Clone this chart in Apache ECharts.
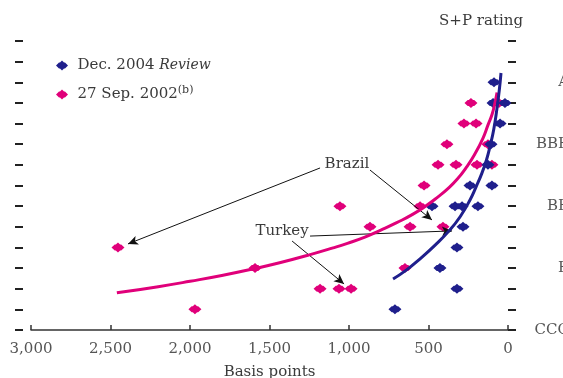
<!DOCTYPE html>
<html><head><meta charset="utf-8">
<script src="https://cdn.jsdelivr.net/npm/echarts@6/dist/echarts.min.js"></script>
<style>html,body{margin:0;padding:0;background:#fff}#c{width:563px;height:378px}</style>
</head><body><div id="c"></div>
<script>
// Rating scale (index 0 = CCC ... 14)
const ratingLabels = ['CCC','','','B','','','BB','','','BBB','','','A','',''];
const xTicks = [0, 500, 1000, 1500, 2000, 2500, 3000];

// Dec. 2004 Review points: spread (bp) and rating index
const dec2004Bp = [88, 94, 19, 50, 107, 126, 239, 101, 478, 333, 289, 189, 283, 321, 428, 321, 711];
const dec2004Rating = [12, 11, 11, 10, 9, 8, 7, 7, 6, 6, 6, 6, 5, 4, 3, 2, 1];

// 27 Sep. 2002 points
const sep2002Bp = [233, 57, 277, 201, 384, 126, 440, 327, 195, 101, 528, 553, 1057, 868, 616, 409, 2453, 1591, 648, 1182, 1063, 987, 1969];
const sep2002Rating = [11, 11, 10, 10, 9, 9, 8, 8, 8, 8, 7, 6, 6, 5, 5, 5, 4, 3, 3, 2, 2, 2, 1];

// Fitted curves
const dec2004FitBp = [723, 640, 553, 460, 365, 300, 239, 200, 164, 135, 113, 90, 69, 55, 44];
const dec2004FitRating = [2.47, 2.9, 3.45, 4.1, 4.85, 5.5, 6.3, 6.95, 7.6, 8.25, 8.9, 9.7, 10.75, 11.6, 12.45];
const sep2002FitBp = [2460, 2200, 2000, 1800, 1590, 1430, 1250, 1100, 1010, 900, 800, 700, 600, 500, 440, 385, 320, 260, 210, 157, 125, 100, 82, 69];
const sep2002FitRating = [1.8, 2.1, 2.36, 2.64, 2.98, 3.27, 3.64, 3.98, 4.2, 4.5, 4.84, 5.2, 5.6, 6.1, 6.45, 6.8, 7.3, 7.9, 8.5, 9.3, 9.95, 10.45, 11.0, 11.5];

const BLUE = '#1f1f8c';
const MAGENTA = '#e0007a';
const FONT = 'DejaVu Serif';
const marker = 'path://M6,0 L8,2 L9,2 L12,5 L9,8 L8,8 L6,10 L4,8 L3,8 L0,5 L3,2 L4,2 Z';

const zip = (a, b) => a.map((v, i) => [v, b[i]]);

const chart = echarts.init(document.getElementById('c'), null, {renderer: 'canvas'});
chart.setOption({
  animation: false,
  textStyle: {fontFamily: FONT},
  title: {text: 'S+P rating', right: 40, top: 14, padding: 0,
    textStyle: {fontFamily: FONT, fontSize: 15, fontWeight: 'normal', color: '#3a3a3a'}},
  legend: {
    orient: 'vertical', left: 51, top: 53, itemGap: 12, itemWidth: 13, itemHeight: 10,
    data: [{name: 'Dec. 2004', icon: marker}, {name: '27 Sep. 2002', icon: marker}],
    formatter: n => n === 'Dec. 2004' ? 'Dec. 2004 {i|Review}' : '27 Sep. 2002{s|(b)}',
    textStyle: {fontFamily: FONT, fontSize: 15, color: '#3a3a3a', padding: [0, 0, 0, 4],
      rich: {i: {fontFamily: FONT, fontStyle: 'italic', fontSize: 14, color: '#3a3a3a'},
             s: {fontFamily: FONT, fontSize: 11, color: '#3a3a3a', verticalAlign: 'top', padding: [0, 0, 8, 0]}}}
  },
  grid: {left: 31, right: 55, top: 41, bottom: 48, containLabel: false, outerBoundsMode: 'none'},
  xAxis: {
    type: 'value', inverse: true, min: 0, max: 3000, interval: 500,
    name: 'Basis points', nameLocation: 'middle', nameGap: 35,
    nameTextStyle: {fontFamily: FONT, fontSize: 15, color: '#3a3a3a'},
    axisLine: {show: true, lineStyle: {color: '#333', width: 1.5}},
    axisTick: {show: true, inside: true, length: 5, lineStyle: {color: '#333', width: 1.5}},
    axisLabel: {margin: 12, fontFamily: FONT, fontSize: 15, color: '#555',
      formatter: v => xTicks.includes(v) ? v.toLocaleString('en-US') : ''},
    splitLine: {show: false}
  },
  yAxis: [{
    type: 'value', position: 'right', offset: 7, min: 0, max: 14, interval: 1,
    axisLine: {show: false},
    axisTick: {show: true, length: 8, lineStyle: {color: '#222', width: 2}},
    axisLabel: {margin: 54, align: 'right', fontFamily: FONT, fontSize: 15, color: '#555',
      formatter: v => ratingLabels[v] || ''},
    splitLine: {show: false}
  }, {
    type: 'value', position: 'left', offset: 8, min: 0, max: 14, interval: 1,
    axisLine: {show: false},
    axisTick: {show: true, length: 8, lineStyle: {color: '#222', width: 2}},
    axisLabel: {show: false}, splitLine: {show: false}
  }],
  series: [
    {name: '27 Sep. 2002', type: 'scatter', symbol: marker, symbolSize: [13, 10],
      itemStyle: {color: MAGENTA, opacity: 1}, data: zip(sep2002Bp, sep2002Rating), z: 3},
    {name: 'Dec. 2004', type: 'scatter', symbol: marker, symbolSize: [13, 10],
      itemStyle: {color: BLUE, opacity: 1}, data: zip(dec2004Bp, dec2004Rating), z: 4},
    {name: 'fit2002', type: 'line', smooth: true, showSymbol: false, symbol: 'none',
      lineStyle: {color: MAGENTA, width: 3}, data: zip(sep2002FitBp, sep2002FitRating), z: 5},
    {name: 'fit2004', type: 'line', smooth: true, showSymbol: false, symbol: 'none',
      lineStyle: {color: BLUE, width: 3}, data: zip(dec2004FitBp, dec2004FitRating), z: 5},
    {name: 'annot', type: 'scatter', data: [], z: 6,
      markLine: {silent: true, symbol: ['none', 'arrow'], symbolSize: [7, 10],
        lineStyle: {color: '#111', width: 1, type: 'solid'}, label: {show: false},
        data: [
          [{coord: [1182, 7.85]}, {coord: [2390, 4.17]}],
          [{coord: [868, 7.75]}, {coord: [478, 5.33]}],
          [{coord: [1245, 4.55]}, {coord: [352, 4.80]}],
          [{coord: [1358, 4.31]}, {coord: [1031, 2.23]}]
        ]},
      markPoint: {silent: true, symbol: 'circle', symbolSize: 0,
        label: {show: true, position: 'inside', fontFamily: FONT, fontSize: 15, color: '#3a3a3a',
          formatter: p => p.name},
        data: [{name: 'Brazil', coord: [1013, 8.04]}, {name: 'Turkey', coord: [1421, 4.80]}]}
    }
  ]
});
</script></body></html>
